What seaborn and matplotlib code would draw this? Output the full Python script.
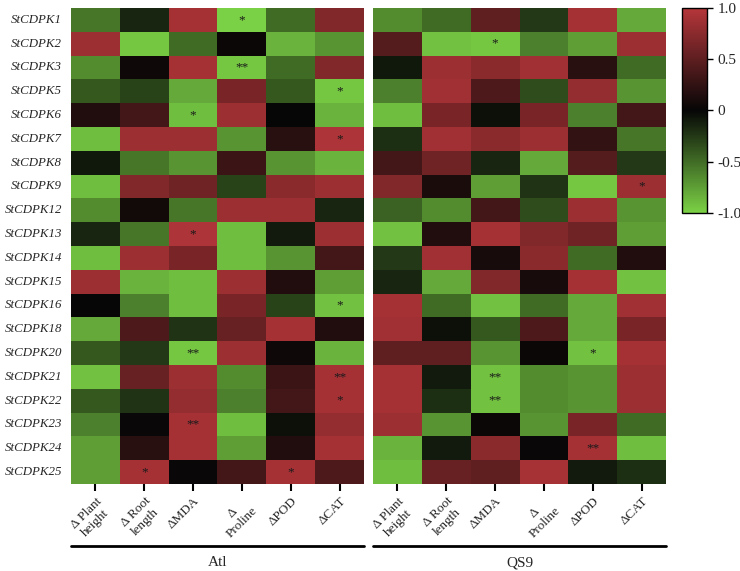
import numpy as np
import pandas as pd
import matplotlib
matplotlib.use("Agg")
import matplotlib.pyplot as plt
import seaborn as sns
from matplotlib.colors import LinearSegmentedColormap
from matplotlib.lines import Line2D

genes = ["StCDPK1", "StCDPK2", "StCDPK3", "StCDPK5", "StCDPK6", "StCDPK7", "StCDPK8",
         "StCDPK9", "StCDPK12", "StCDPK13", "StCDPK14", "StCDPK15", "StCDPK16", "StCDPK18",
         "StCDPK20", "StCDPK21", "StCDPK22", "StCDPK23", "StCDPK24", "StCDPK25"]
traits = ["Δ Plant\nheight", "Δ Root\nlength", "ΔMDA", "Δ\nProline", "ΔPOD", "ΔCAT"]
groups = ["Atl", "QS9"]

atl_values = [
    [-0.55, -0.15, 0.90, -1.00, -0.50, 0.70],
    [0.85, -0.95, -0.50, 0.03, -0.85, -0.70],
    [-0.65, 0.05, 0.90, -0.95, -0.50, 0.70],
    [-0.40, -0.30, -0.80, 0.65, -0.40, -0.95],
    [0.15, 0.35, -0.90, 0.85, 0.00, -0.85],
    [-0.90, 0.85, 0.85, -0.70, 0.20, 0.95],
    [-0.08, -0.55, -0.70, 0.30, -0.70, -0.85],
    [-0.90, 0.70, 0.60, -0.30, 0.75, 0.85],
    [-0.65, 0.07, -0.55, 0.85, 0.85, -0.15],
    [-0.15, -0.55, 0.95, -0.90, -0.10, 0.85],
    [-0.90, 0.85, 0.65, -0.90, -0.70, 0.35],
    [0.85, -0.85, -0.90, 0.85, 0.15, -0.75],
    [0.00, -0.60, -0.90, 0.65, -0.30, -0.92],
    [-0.80, 0.40, -0.22, 0.55, 0.90, 0.15],
    [-0.40, -0.25, -0.95, 0.85, 0.05, -0.85],
    [-0.92, 0.55, 0.85, -0.65, 0.30, 0.90],
    [-0.40, -0.22, 0.80, -0.60, 0.35, 0.90],
    [-0.60, 0.02, 0.90, -0.90, -0.05, 0.80],
    [-0.75, 0.20, 0.90, -0.75, 0.15, 0.90],
    [-0.75, 0.90, 0.02, 0.35, 0.90, 0.40],
]
qs9_values = [
    [-0.65, -0.50, 0.50, -0.25, 0.90, -0.80],
    [0.45, -0.92, -0.95, -0.60, -0.75, 0.85],
    [-0.08, 0.85, 0.75, 0.88, 0.20, -0.50],
    [-0.60, 0.88, 0.40, -0.35, 0.80, -0.70],
    [-0.90, 0.65, -0.05, 0.65, -0.60, 0.35],
    [-0.20, 0.88, 0.75, 0.85, 0.25, -0.55],
    [0.35, 0.60, -0.15, -0.80, 0.45, -0.25],
    [0.70, 0.12, -0.75, -0.22, -0.95, 0.85],
    [-0.45, -0.65, 0.35, -0.35, 0.85, -0.70],
    [-0.92, 0.15, 0.90, 0.70, 0.60, -0.75],
    [-0.25, 0.88, 0.10, 0.75, -0.50, 0.15],
    [-0.15, -0.80, 0.70, 0.10, 0.90, -0.92],
    [0.90, -0.50, -0.92, -0.50, -0.80, 0.88],
    [0.88, -0.05, -0.40, 0.40, -0.80, 0.65],
    [0.50, 0.50, -0.70, 0.03, -0.92, 0.90],
    [0.90, -0.10, -0.92, -0.65, -0.70, 0.85],
    [0.90, -0.20, -0.92, -0.65, -0.70, 0.85],
    [0.85, -0.70, 0.03, -0.70, 0.65, -0.50],
    [-0.85, -0.10, 0.75, 0.02, 0.90, -0.90],
    [-0.90, 0.55, 0.50, 0.92, -0.10, -0.20],
]
atl_marks = [
    ["", "", "", "*", "", ""],
    ["", "", "", "", "", ""],
    ["", "", "", "**", "", ""],
    ["", "", "", "", "", "*"],
    ["", "", "*", "", "", ""],
    ["", "", "", "", "", "*"],
    ["", "", "", "", "", ""],
    ["", "", "", "", "", ""],
    ["", "", "", "", "", ""],
    ["", "", "*", "", "", ""],
    ["", "", "", "", "", ""],
    ["", "", "", "", "", ""],
    ["", "", "", "", "", "*"],
    ["", "", "", "", "", ""],
    ["", "", "**", "", "", ""],
    ["", "", "", "", "", "**"],
    ["", "", "", "", "", "*"],
    ["", "", "**", "", "", ""],
    ["", "", "", "", "", ""],
    ["", "*", "", "", "*", ""],
]
qs9_marks = [
    ["", "", "", "", "", ""],
    ["", "", "*", "", "", ""],
    ["", "", "", "", "", ""],
    ["", "", "", "", "", ""],
    ["", "", "", "", "", ""],
    ["", "", "", "", "", ""],
    ["", "", "", "", "", ""],
    ["", "", "", "", "", "*"],
    ["", "", "", "", "", ""],
    ["", "", "", "", "", ""],
    ["", "", "", "", "", ""],
    ["", "", "", "", "", ""],
    ["", "", "", "", "", ""],
    ["", "", "", "", "", ""],
    ["", "", "", "", "*", ""],
    ["", "", "**", "", "", ""],
    ["", "", "**", "", "", ""],
    ["", "", "", "", "", ""],
    ["", "", "", "", "**", ""],
    ["", "", "", "", "", ""],
]
cbar_ticks = [-1.0, -0.5, 0, 0.5, 1.0]
cbar_ticklabels = ["-1.0", "-0.5", "0", "0.5", "1.0"]

cmap = LinearSegmentedColormap.from_list("gkr", ["#7bd145", "#060606", "#b5363a"])

sns.set_style("white")
plt.rcParams["font.family"] = ["Liberation Serif", "DejaVu Serif"]

fig = plt.figure(figsize=(7.40, 5.71), dpi=100)
axes = [fig.add_axes([0.0959, 0.1524, 0.396, 0.8336]),
        fig.add_axes([0.5041, 0.1524, 0.396, 0.8336])]
cax = fig.add_axes([0.9216, 0.627, 0.0338, 0.359])

datasets = [(atl_values, atl_marks), (qs9_values, qs9_marks)]
for k, (ax, (vals, marks)) in enumerate(zip(axes, datasets)):
    df = pd.DataFrame(vals, index=genes, columns=traits)
    sns.heatmap(df, ax=ax, cmap=cmap, vmin=-1, vmax=1,
                annot=np.array(marks), fmt="",
                annot_kws={"color": "#1a1a1a", "fontsize": 9.5},
                cbar=(k == 0), cbar_ax=cax if k == 0 else None, linewidths=0)
    for t in ax.texts:
        t.set_color("#1a1a1a")
    ax.set_xlabel("")
    ax.set_ylabel("")
    ax.tick_params(axis="x", bottom=True, length=5, width=1.5, color="black", pad=3)
    ax.tick_params(axis="y", left=False, pad=3)
    ax.set_xticklabels(traits, rotation=45, ha="right", rotation_mode="anchor",
                       fontsize=9.5, multialignment="center")
    if k == 0:
        ax.set_yticklabels(genes, rotation=0, fontsize=9.3, fontstyle="italic")
    else:
        ax.set_yticklabels([])
    ax.add_line(Line2D([0, 1], [-0.13, -0.13], transform=ax.transAxes,
                       color="black", lw=2, clip_on=False))
    ax.text(0.5, -0.165, groups[k], transform=ax.transAxes, ha="center", va="center",
            fontsize=11)

cb = axes[0].collections[0].colorbar
cb.set_ticks(cbar_ticks)
cb.set_ticklabels(cbar_ticklabels)
cb.ax.tick_params(labelsize=11, length=4, width=1, color="black")
cb.outline.set_visible(True)
cb.outline.set_edgecolor("black")
cb.outline.set_linewidth(1)

fig.savefig("out.png", dpi=100)
